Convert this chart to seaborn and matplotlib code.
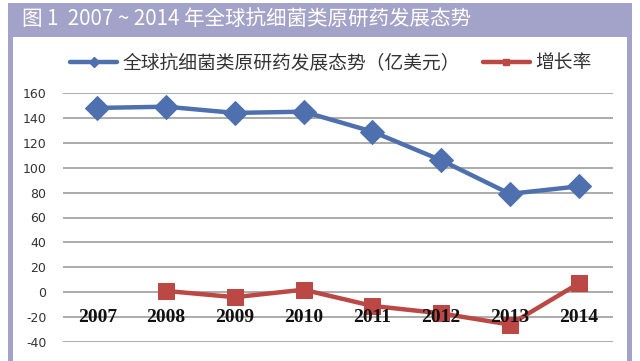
import numpy as np
import pandas as pd
import matplotlib
matplotlib.use("Agg")
import matplotlib.pyplot as plt
from matplotlib.patches import Rectangle
from matplotlib.lines import Line2D
import seaborn as sns

# data
years = ["2007", "2008", "2009", "2010", "2011", "2012", "2013", "2014"]
market = [148, 149, 144, 145, 129, 106, 79, 85]           # 亿美元
growth = [np.nan, 1, -4, 2, -11, -17, -26, 7]             # 增长率
yticks = [160, 140, 120, 100, 80, 60, 40, 20, 0, -20, -40]

title = "图 1  2007 ~ 2014 年全球抗细菌类原研药发展态势"
name_market = "全球抗细菌类原研药发展态势（亿美元）"
name_growth = "增长率"

blue = "#4E70AE"
red = "#BB4845"
frame = "#A3A2C9"

sns.set_theme(style="white")
plt.rcParams['font.family'] = ['Noto Sans CJK SC', 'DejaVu Sans']

df = pd.DataFrame({"year": years, "market": market, "growth": growth})
df["x"] = np.arange(len(years))

fig = plt.figure(figsize=(6.4, 3.61), dpi=100)

# frame and title bar
fig.patches.append(Rectangle((8 / 640, 0), 624 / 640, 1 - 3 / 361, transform=fig.transFigure,
                             facecolor=frame, edgecolor="none", zorder=-2))
fig.patches.append(Rectangle((13 / 640, 0), 614 / 640, 1 - 37 / 361, transform=fig.transFigure,
                             facecolor="white", edgecolor="none", zorder=-1))
fig.text(22 / 640, 1 - 20 / 361, title, color="white", fontsize=14.8, va="center", ha="left")

ax = fig.add_axes([63 / 640, 1 - 342 / 361, 550 / 640, 249 / 361])
ax.set_facecolor("none")
ax.set_zorder(2)

sns.lineplot(data=df, x="x", y="market", ax=ax, color=blue, linewidth=3.2,
             marker="D", markersize=12.5, markeredgecolor=blue, label=name_market, legend=False)
sns.lineplot(data=df.dropna(), x="x", y="growth", ax=ax, color=red, linewidth=3.2,
             marker="s", markersize=12, markeredgecolor=red, label=name_growth, legend=False)

ax.set_xlim(-0.5, len(years) - 0.5)
ax.set_ylim(-40, 160)
ax.set_yticks(yticks)
ax.set_yticklabels([str(t) for t in yticks], fontsize=9, color="#333333",
                   family="DejaVu Sans")
ax.tick_params(axis="y", length=0, pad=12)
ax.set_xticks([])
ax.set_xlabel("")
ax.set_ylabel("")
for s in ax.spines.values():
    s.set_visible(False)
ax.grid(axis="y", color="#a5a5a5", linewidth=1.3)
ax.set_axisbelow(True)

# year labels sit on the -20 gridline, drawn over the markers
for i, yr in enumerate(years):
    ax.text(i, -20, yr, ha="center", va="center", fontsize=14, fontweight="bold",
            family="Liberation Serif", color="#111111", zorder=5)

handles = [Line2D([], [], color=blue, linewidth=3.2, marker="D", markersize=5),
           Line2D([], [], color=red, linewidth=3.2, marker="s", markersize=5)]
fig.legend(handles, [name_market, name_growth], loc="center left",
           bbox_to_anchor=(61 / 640, 1 - 63 / 361), ncol=2, frameon=False,
           fontsize=13.5, handlelength=2.5, handletextpad=0.3, columnspacing=1.2,
           borderpad=0, labelcolor="#333333")

fig.savefig("out.png", dpi=100)
